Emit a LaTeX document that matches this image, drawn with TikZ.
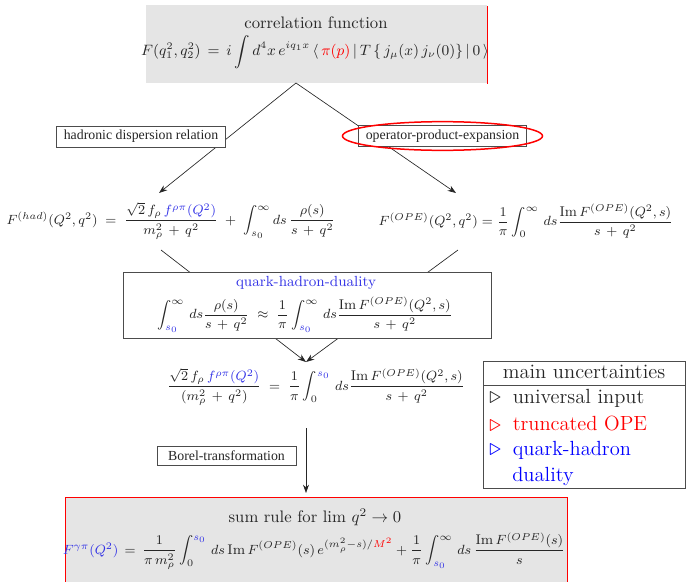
\documentclass[tikz,border=0pt]{standalone}
\usepackage{amsmath}
\usepackage{graphicx}
\usepackage{fontspec}
\newfontfamily\timesfont{Liberation Serif}
\usetikzlibrary{arrows.meta}
\definecolor{qblue}{RGB}{51,51,230}
\newcommand{\trir}{\raisebox{-0.3pt}{\scalebox{1.2}{$\triangleright$}}}
\begin{document}
\begin{tikzpicture}[x=0.6pt,y=-0.6pt,
  every node/.style={text=black!85},
  lbl/.style={draw=black!70, line width=0.5pt, fill=white, font=\timesfont\fontsize{8.3}{10}\selectfont, inner xsep=4.3pt, inner ysep=2.5pt},
  conn/.style={line width=0.4pt, black!85},
  arr/.style={conn, -{Stealth[length=5pt,width=3.6pt]}},
  frm/.style={inner sep=0pt, align=center, font=\fontsize{8.5}{10.5}\selectfont},
  ttl/.style={inner sep=0pt, font=\fontsize{10}{12}\selectfont},
  unct/.style={inner sep=0pt, font=\fontsize{12.3}{15}\selectfont, anchor=west},
  boxline/.style={draw=black!70, line width=0.6pt}
]
\useasboundingbox (0,0) rectangle (686,582);
% top box
\fill[black!10] (146,5) rectangle (487,83);
\draw[red, line width=0.6pt] (487.5,6) -- (487.5,84);
\node[ttl] (corrt) at (316,23) {correlation function};
\node[frm, font=\fontsize{8.7}{10.5}\selectfont] (corrf) at (315,52) {$F(q_1^2,q_2^2)\,=\,i\displaystyle\int d^4x\,e^{iq_1x}\,\langle\,\textcolor{red}{\pi(p)}\,|\,T\,\{\,j_\mu(x)\,j_\nu(0)\}\,|\,0\,\rangle$};
% branches
\coordinate (apex) at (296,83);
\coordinate (tipL) at (159,193);
\coordinate (tipR) at (456,193);
\draw[arr] (apex) -- (tipL);
\draw[arr] (apex) -- (tipR);
\node[lbl] (hdr) at (141,136.5) {hadronic dispersion relation};
\node[lbl] (ope) at (442.5,136) {operator-product-expansion};
\draw[red, line width=0.9pt] (ope.center) ellipse [x radius=60pt, y radius=8.6pt];
% formulas
\node[frm] (had) at (171,221) {$F^{(had)}(Q^2,q^2)\;=\;\dfrac{\sqrt{2}\,f_\rho\,\textcolor{qblue}{f^{\rho\pi}(Q^2)}}{m_\rho^2\,+\,q^2}\;+\;\displaystyle\int_{s_0}^{\infty} ds\,\frac{\rho(s)}{s\,+\,q^2}$};
\node[frm] (opef) at (526,221) {$F^{(OPE)}(Q^2,q^2)=\dfrac{1}{\pi}\displaystyle\int_0^{\infty}\,ds\frac{\mathrm{Im}\,F^{(OPE)}(Q^2,s)}{s\,+\,q^2}$};
% converge to duality
\coordinate (sL) at (161,250);
\coordinate (sR) at (458,250);
\coordinate (tipM) at (306,362);
\draw[arr] (sL) -- (tipM);
\draw[arr] (sR) -- (tipM);
\node[boxline, fill=white, minimum width=220.8pt, minimum height=39.6pt, inner sep=0pt] (qhd) at (307,305) {};
\node[inner sep=0pt, font=\fontsize{8.8}{10.5}\selectfont] (qhdt) at (306,283) {\textcolor{qblue}{quark-hadron-duality}};
\node[frm] (qhdf) at (305,315) {$\displaystyle\int_{\textcolor{qblue}{s_0}}^{\infty}\,ds\frac{\rho(s)}{s\,+\,q^2}\;\approx\;\frac{1}{\pi}\int_{\textcolor{qblue}{s_0}}^{\infty}\,ds\frac{\mathrm{Im}\,F^{(OPE)}(Q^2,s)}{s\,+\,q^2}$};
% middle
\node[frm] (mid) at (316,387) {$\dfrac{\sqrt{2}\,f_\rho\,\textcolor{qblue}{f^{\rho\pi}(Q^2)}}{(m_\rho^2\,+\,q^2)}\;=\;\dfrac{1}{\pi}\displaystyle\int_0^{\textcolor{qblue}{s_0}}\,ds\frac{\mathrm{Im}\,F^{(OPE)}(Q^2,s)}{s\,+\,q^2}$};
\coordinate (vt) at (306,428);
\coordinate (vb) at (306,493);
\draw[arr] (vt) -- (vb);
\node[lbl, minimum width=83.4pt] (borel) at (226.5,456) {Borel-transformation};
% uncertainties
\node[boxline, minimum width=121.2pt, minimum height=76.2pt, inner sep=0pt] (unc) at (584,424.5) {};
\draw[boxline] (483,385) -- (685,385);
\node[inner sep=0pt, font=\fontsize{12.3}{15}\selectfont] (unch) at (584,372) {main uncertainties};
\node[unct] (u1) at (489,398) {\trir\hspace{7pt}universal input};
\node[unct, text=red] (u2) at (489,424) {\trir\hspace{7pt}truncated OPE};
\node[unct, text=blue] (u3) at (489,450) {\trir\hspace{7pt}quark-hadron};
\node[unct, text=blue] (u4) at (512,476) {duality};
% bottom box
\fill[black!10] (65,497) rectangle (567,592);
\draw[red, line width=0.6pt] (65,592) -- (65,497) -- (567,497) -- (567,592);
\node[ttl] (sumt) at (315,517) {sum rule for $\lim\, q^2\to 0$};
\node[frm, font=\fontsize{8.4}{10.5}\selectfont] (sumf) at (314,551) {$\textcolor{qblue}{F^{\gamma\pi}(Q^2)}\,=\,\dfrac{1}{\pi\,m_\rho^2}\displaystyle\int_0^{\textcolor{qblue}{s_0}}\,ds\,\mathrm{Im}\,F^{(OPE)}(s)\,e^{(m_\rho^2-s)/\textcolor{red}{M^2}}+\frac{1}{\pi}\int_{\textcolor{qblue}{s_0}}^{\infty}\,ds\,\frac{\mathrm{Im}\,F^{(OPE)}(s)}{s}$};
\end{tikzpicture}
\end{document}
